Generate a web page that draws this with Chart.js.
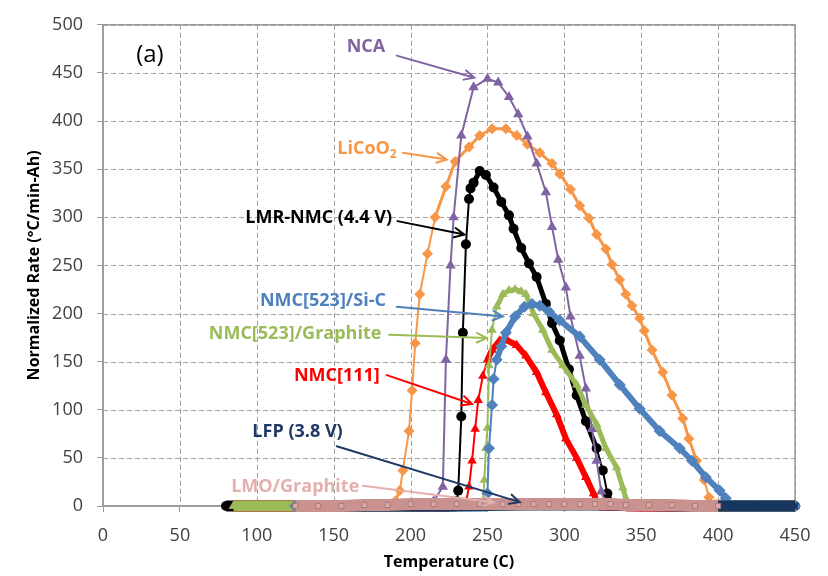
<!DOCTYPE html>
<html>
<head>
<meta charset="utf-8">
<script src="https://cdn.jsdelivr.net/npm/chart.js@4/dist/chart.umd.min.js"></script>
<style>
  html, body { margin: 0; padding: 0; background: #fff; }
</style>
</head>
<body>
<canvas id="rateChart" width="828" height="576"></canvas>
<script>
// values (temperature in C, rate in C/min-Ah)
const ncaTemp = [85, 150, 200, 215, 221, 223, 226, 228, 233, 241, 250, 257, 264, 270, 276, 282, 288, 292, 296, 301, 304, 310, 314, 318, 321, 324, 327, 340, 400, 450];
const ncaRate = [0, 0, 2, 5, 20, 152, 250, 300, 385, 435, 444, 440, 425, 407, 384, 356, 326, 290, 256, 227, 197, 156, 122, 80, 47, 15, 2, 0, 0, 0];

const licoTemp = [85, 150, 185, 190, 193, 195, 199, 201, 203, 206, 211, 216, 223, 229, 238, 245, 253, 262, 269, 276, 284, 292, 297, 304, 310, 316, 321, 327, 331, 336, 340, 344, 349, 352, 357, 364, 370, 377, 381, 386, 391, 394, 397, 420, 450];
const licoRate = [0, 0, 1, 5, 16, 37, 78, 120, 169, 220, 262, 300, 332, 358, 373, 385, 392, 392, 385, 376, 367, 356, 345, 329, 312, 299, 282, 267, 251, 235, 220, 208, 195, 182, 162, 139, 115, 91, 70, 47, 27, 9, 1, 0, 0];

const lmrTemp = [80, 225, 230, 231, 233, 234, 236, 238, 239, 241, 245, 249, 254, 259, 264, 267, 272, 277, 282, 288, 292, 297, 303, 308, 314, 321, 325, 328, 331, 400, 410, 450];
const lmrRate = [0, 0, 5, 16, 93, 180, 272, 319, 330, 336, 348, 344, 331, 316, 302, 288, 268, 252, 238, 210, 190, 172, 142, 115, 88, 60, 37, 13, 1, 0, 0, 0];

const graphiteTemp = [85, 95, 105, 115, 125, 200, 247, 248, 249, 250, 251, 253, 256, 260, 264, 268, 272, 275, 280, 286, 292, 299, 308, 314, 321, 327, 334, 338, 340, 342, 400, 420, 450];
const graphiteRate = [0, 0, 0, 0, 0, 0, 3, 27, 60, 81, 146, 183, 207, 220, 224, 225, 223, 220, 200, 183, 162, 146, 126, 105, 85, 60, 40, 19, 8, 1, 0, 0, 0];

const siTemp = [125, 249, 250, 251, 253, 254, 256, 259, 262, 268, 274, 279, 284, 290, 297, 310, 323, 336, 349, 362, 375, 383, 392, 401, 405, 408, 420, 450];
const siRate = [0, 0, 13, 60, 105, 132, 152, 166, 180, 197, 207, 210, 208, 202, 193, 176, 152, 126, 101, 78, 60, 47, 30, 16, 8, 0, 0, 0];

const nmc111Temp = [85, 230, 236, 238, 240, 242, 244, 247, 250, 253, 258, 263, 269, 275, 282, 288, 295, 301, 308, 314, 319, 322, 350, 400, 450];
const nmc111Rate = [0, 0, 3, 20, 47, 80, 110, 135, 152, 162, 172, 172, 167, 156, 139, 118, 95, 70, 50, 30, 13, 1, 0, 0, 0];

const lfpTemp = [125, 175, 225, 275, 325, 375, 400, 425, 450];
const lfpRate = [0, 0, 0, 1, 1, 0, 0, 0, 0];

const lmoTemp = [125, 140, 155, 170, 185, 200, 215, 230, 245, 260, 270, 280, 290, 300, 310, 320, 330, 340, 355, 370, 385, 400];
const lmoRate = [0, 0, 0, 1, 1, 2, 2, 2, 2, 2, 2, 2, 2, 2, 2, 2, 2, 1, 1, 1, 0, 0];

const xTicks = [0, 50, 100, 150, 200, 250, 300, 350, 400, 450];
const yTicks = [0, 50, 100, 150, 200, 250, 300, 350, 400, 450, 500];

const FONT = "'Open Sans', 'DejaVu Sans', sans-serif";
const toPoints = (t, r) => t.map((v, i) => ({ x: v, y: r[i] }));

// flat runs along zero are drawn as a thick band, like the packed markers in the figure;
// slow-falling stretches get the series' heavy width, steep jumps stay thin
const BAND = 11;

function series(label, t, r, color, style, radius, width) {
  return {
    label: label,
    data: toPoints(t, r),
    borderColor: color,
    backgroundColor: color,
    pointBackgroundColor: color,
    pointBorderColor: color,
    pointBorderWidth: 0,
    pointStyle: style,
    pointRadius: radius,
    borderWidth: width,
    borderJoinStyle: 'round',
    segment: {
      borderWidth: s => {
        if (s.p0.parsed.y <= 1 && s.p1.parsed.y <= 1) return BAND;
        const slope = Math.abs(s.p1.y - s.p0.y) / Math.max(s.p1.x - s.p0.x, 0.01);
        return slope < 3.5 ? width : 2;
      }
    },
    tension: 0,
    clip: false
  };
}

// text labels with arrows pointing to the curves
const callouts = [
  { text: '(a)', color: '#000', font: '24px ' + FONT, at: [30.5, 468], align: 'center' },
  { text: 'NCA', color: '#8064A2', at: [171, 477.5], align: 'center', from: [191, 468], to: [241.5, 445] },
  { text: 'LiCoO', sub: '2', color: '#F79646', at: [191, 371], align: 'right', from: [195, 367], to: [223.5, 360] },
  { text: 'LMR-NMC (4.4 V)', color: '#000', at: [188, 299], align: 'right', from: [191.5, 296], to: [235, 282] },
  { text: 'NMC[523]/Si-C', color: '#4F81BD', at: [184, 213], align: 'right', from: [191, 207], to: [260, 197] },
  { text: 'NMC[523]/Graphite', color: '#9BBB59', at: [181, 178.5], align: 'right', from: [186, 178], to: [249.5, 174.5] },
  { text: 'NMC[111]', color: '#FF0000', at: [180, 135.5], align: 'right', from: [184.5, 136], to: [240, 106] },
  { text: 'LFP (3.8 V)', color: '#1F3864', at: [126.5, 77.5], align: 'center', from: [152, 62], to: [271, 4] },
  { text: 'LMO/Graphite', color: '#E3B0AE', at: [125, 19.5], align: 'center', from: [169, 21], to: [254, 4] }
];

const calloutPlugin = {
  id: 'callouts',
  beforeDatasetsDraw(chart) {
    const { ctx, chartArea: a, scales: { x, y } } = chart;
    ctx.save();
    // dashed grid
    ctx.strokeStyle = '#a0a0a0';
    ctx.lineWidth = 1;
    ctx.setLineDash([5, 3]);
    ctx.beginPath();
    xTicks.forEach(v => {
      const px = Math.round(x.getPixelForValue(v)) + 0.5;
      ctx.moveTo(px, a.top);
      ctx.lineTo(px, a.bottom);
    });
    yTicks.forEach(v => {
      const py = Math.round(y.getPixelForValue(v)) + 0.5;
      ctx.moveTo(a.left, py);
      ctx.lineTo(a.right, py);
    });
    ctx.stroke();
    // plot frame
    ctx.setLineDash([]);
    ctx.strokeStyle = '#9a9a9a';
    ctx.lineWidth = 1.5;
    ctx.strokeRect(a.left, a.top, a.right - a.left, a.bottom - a.top);
    ctx.restore();
  },
  afterDatasetsDraw(chart) {
    const { ctx, scales: { x, y } } = chart;
    callouts.forEach(c => {
      ctx.save();
      ctx.fillStyle = c.color;
      ctx.strokeStyle = c.color;
      ctx.font = c.font || 'bold 18px ' + FONT;
      ctx.textBaseline = 'middle';
      const px = x.getPixelForValue(c.at[0]);
      const py = y.getPixelForValue(c.at[1]);
      const w = ctx.measureText(c.text).width;
      let subW = 0;
      if (c.sub) {
        ctx.font = 'bold 12px ' + FONT;
        subW = ctx.measureText(c.sub).width;
        ctx.font = c.font || 'bold 18px ' + FONT;
      }
      const total = w + subW;
      const left = c.align === 'right' ? px - total : c.align === 'center' ? px - total / 2 : px;
      ctx.textAlign = 'left';
      ctx.fillText(c.text, left, py);
      if (c.sub) {
        ctx.font = 'bold 12px ' + FONT;
        ctx.fillText(c.sub, left + w, py + 6);
      }
      if (c.from) {
        const x1 = x.getPixelForValue(c.from[0]), y1 = y.getPixelForValue(c.from[1]);
        const x2 = x.getPixelForValue(c.to[0]), y2 = y.getPixelForValue(c.to[1]);
        const ang = Math.atan2(y2 - y1, x2 - x1);
        ctx.lineWidth = 2;
        ctx.lineCap = 'round';
        ctx.beginPath();
        ctx.moveTo(x1, y1);
        ctx.lineTo(x2, y2);
        ctx.moveTo(x2 - 11 * Math.cos(ang - 0.45), y2 - 11 * Math.sin(ang - 0.45));
        ctx.lineTo(x2, y2);
        ctx.lineTo(x2 - 11 * Math.cos(ang + 0.45), y2 - 11 * Math.sin(ang + 0.45));
        ctx.stroke();
      }
      ctx.restore();
    });
  }
};

const lmo = series('LMO/Graphite', lmoTemp, lmoRate, '#C9928F', 'rect', 3.5, 9);
lmo.segment = { borderWidth: 12 };
lmo.pointBackgroundColor = '#D9AAA7';
lmo.pointBorderColor = '#A97C7A';
lmo.pointBorderWidth = 1;

const ctx = document.getElementById('rateChart').getContext('2d');

const rateChart = new Chart(ctx, {
  type: 'line',
  data: {
    datasets: [
      lmo,
      series('LFP (3.8 V)', lfpTemp, lfpRate, '#17375E', 'rect', 4, 2),
      series('NMC[523]/Si-C', siTemp, siRate, '#4F81BD', 'rectRot', 6, 6),
      series('NMC[523]/Graphite', graphiteTemp, graphiteRate, '#9BBB59', 'triangle', 5.5, 5),
      series('NMC[111]', nmc111Temp, nmc111Rate, '#FF0000', 'triangle', 5.5, 6),
      series('NCA', ncaTemp, ncaRate, '#8064A2', 'triangle', 6, 2),
      series('LMR-NMC (4.4 V)', lmrTemp, lmrRate, '#000000', 'circle', 5, 5),
      series('LiCoO2', licoTemp, licoRate, '#F79646', 'rectRot', 5.5, 3)
    ]
  },
  options: {
    responsive: false,
    animation: false,
    layout: { padding: { top: 16, right: 33, left: 0, bottom: 0 } },
    plugins: {
      legend: { display: false },
      tooltip: { enabled: false }
    },
    scales: {
      x: {
        type: 'linear',
        min: 0,
        max: 450,
        afterFit: s => { s.height = 70; },
        afterBuildTicks: s => { s.ticks = xTicks.map(v => ({ value: v })); },
        ticks: { font: { family: FONT, size: 18 }, color: '#404040', padding: 13 },
        grid: { drawOnChartArea: false, tickLength: 6, tickColor: '#9a9a9a' },
        border: { color: '#9a9a9a', width: 1.5 },
        title: {
          display: true,
          text: 'Temperature (C)',
          color: '#000',
          font: { family: FONT, size: 16, weight: 'bold' },
          padding: { top: 0, bottom: 4 }
        }
      },
      y: {
        min: 0,
        max: 500,
        afterFit: s => { s.width = 103; },
        afterBuildTicks: s => { s.ticks = yTicks.map(v => ({ value: v })); },
        ticks: { font: { family: FONT, size: 18 }, color: '#404040', padding: 14 },
        grid: { drawOnChartArea: false, tickLength: 6, tickColor: '#9a9a9a' },
        border: { color: '#9a9a9a', width: 1.5 },
        title: {
          display: true,
          text: 'Normalized Rate (°C/min-Ah)',
          color: '#000',
          font: { family: FONT, size: 16, weight: 'bold' },
          padding: { top: 25, bottom: 0 }
        }
      }
    }
  },
  plugins: [calloutPlugin]
});
</script>
</body>
</html>
